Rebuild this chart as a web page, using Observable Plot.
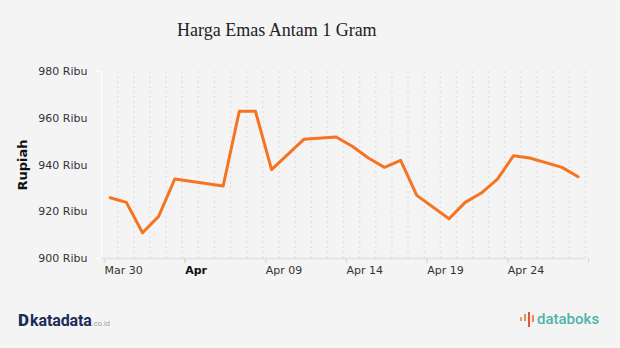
<!DOCTYPE html>
<html><head><meta charset="utf-8">
<script src="https://cdn.jsdelivr.net/npm/d3@7"></script>
<script src="https://cdn.jsdelivr.net/npm/@observablehq/plot@0.6"></script>
<style>
html,body{margin:0;padding:0;background:#f4f4f4;}
#wrap{position:relative;width:620px;height:348px;background:#f4f4f4;overflow:hidden;}
#chart{position:absolute;left:0;top:0;}
#title{position:absolute;left:177px;top:21px;line-height:1;font-family:"Liberation Serif","Times New Roman",serif;font-size:18px;color:#222;white-space:nowrap;}
#kd{position:absolute;left:18px;top:312px;line-height:1;white-space:nowrap;font-family:Roboto,"Liberation Sans",sans-serif;color:#1c2b5c;}
#kd .d{font-weight:900;font-size:17px;}
#kd .k{font-weight:700;font-size:16px;letter-spacing:-0.1px;margin-left:1px;}
#kd .c{font-size:7.5px;color:#9aa0aa;}
#db{position:absolute;left:520px;top:311px;line-height:1;white-space:nowrap;font-family:Roboto,"Liberation Sans",sans-serif;}
#db .t{font-weight:500;font-size:15px;color:#4fb3ad;vertical-align:middle;}
#db .ic{display:inline-block;vertical-align:middle;height:17px;width:15px;position:relative;margin-right:2px;}
#db .ic i{position:absolute;width:2px;background:#ef6b4f;}
</style></head><body>
<div id="wrap">
<div id="chart"></div>
<div id="title">Harga Emas Antam 1 Gram</div>
<div id="kd"><span class="d">D</span><span class="k">katadata</span><span class="c">.co.id</span></div>
<div id="db"><span class="ic"><i style="left:0;top:6px;height:4px;background:#f39a5b"></i><i style="left:4px;top:3px;height:7px;background:#f28a52"></i><i style="left:8px;top:1px;height:15px;background:#e8543f"></i><i style="left:12px;top:4px;height:7px;background:#f28a52"></i></span><span class="t">databoks</span></div>
</div>
<script>
const dates = ["2020-03-30","2020-03-31","2020-04-01","2020-04-02","2020-04-03",
  "2020-04-06","2020-04-07","2020-04-08","2020-04-09","2020-04-11",
  "2020-04-13","2020-04-14","2020-04-15","2020-04-16","2020-04-17",
  "2020-04-18","2020-04-20","2020-04-21","2020-04-22","2020-04-23",
  "2020-04-24","2020-04-25","2020-04-26","2020-04-27","2020-04-28"];
const prices = [926, 924, 911, 918, 934,
  931, 963, 963, 938, 951,
  952, 948, 943, 939, 942,
  927, 917, 924, 928, 934,
  944, 943, 941, 939, 935];
const yTicks = [900, 920, 940, 960, 980];
const yTickLabels = ["900 Ribu", "920 Ribu", "940 Ribu", "960 Ribu", "980 Ribu"];
const xTickDates = ["2020-03-30","2020-04-04","2020-04-09","2020-04-14","2020-04-19","2020-04-24","2020-04-29"];
const xTickLabels = ["Mar 30", "Apr", "Apr 09", "Apr 14", "Apr 19", "Apr 24", ""];
const boldTickLabel = "Apr";
const yLabel = "Rupiah";

const parse = d3.utcParse("%Y-%m-%d");
const data = dates.map((d, i) => ({date: d3.utcHour.offset(parse(d), 13), value: prices[i]}));
const ticks = xTickDates.map(parse);
const xStart = ticks[0], xEnd = ticks[ticks.length - 1];
const gridDays = d3.utcDay.range(xStart, d3.utcDay.offset(xEnd, 1));
const labelOf = new Map(ticks.map((d, i) => [+d, xTickLabels[i]]));
const yLabelOf = new Map(yTicks.map((v, i) => [v, yTickLabels[i]]));
const boldTicks = ticks.filter(d => labelOf.get(+d) === boldTickLabel);

const chart = Plot.plot({
  width: 620, height: 348,
  marginLeft: 101, marginRight: 35, marginTop: 71, marginBottom: 90,
  style: {background: "transparent", fontFamily: "'DejaVu Sans', Verdana, sans-serif", fontSize: "11px", color: "#333"},
  x: {type: "utc", domain: [xStart, xEnd]},
  y: {domain: [900, 980]},
  marks: [
    Plot.ruleX(gridDays, {stroke: "#e2e2e2", strokeWidth: 1.5, strokeDasharray: "2,3"}),
    Plot.ruleX([xStart], {stroke: "#ffffff", strokeWidth: 1.5}),
    Plot.ruleY([900], {stroke: "#e0e0e0", strokeWidth: 1.5}),
    Plot.axisY({ticks: [yTicks[0], yTicks[yTicks.length - 1]], tickSize: 5, stroke: "#ffffff", strokeWidth: 1.5, tickFormat: () => "", label: null}),
    Plot.axisY({ticks: yTicks, tickSize: 0, tickPadding: 14, tickFormat: v => yLabelOf.get(v), label: null, fill: "#333"}),
    Plot.axisX({ticks, tickSize: 5, tickPadding: 3, stroke: "#dcdcdc", strokeWidth: 1.5, fill: "#333",
      tickFormat: d => labelOf.get(+d) === boldTickLabel ? "" : labelOf.get(+d), textAnchor: "start", dx: 3, label: null}),
    Plot.axisX({ticks: boldTicks, tickSize: 5, tickPadding: 3, stroke: "#dcdcdc", strokeWidth: 1.5, fill: "#111",
      fontWeight: "bold", tickFormat: d => labelOf.get(+d), textAnchor: "start", dx: 3, label: null}),
    Plot.text([yLabel], {frameAnchor: "left", textAnchor: "middle", rotate: -90, dx: -79, fontWeight: "bold", fontSize: 13, fill: "#111",
      fontFamily: "'DejaVu Sans', Verdana, sans-serif"}),
    Plot.line(data, {x: "date", y: "value", stroke: "#f47421", strokeWidth: 3, strokeLinejoin: "round", strokeLinecap: "round"})
  ]
});
document.getElementById("chart").appendChild(chart);
</script>
</body></html>
